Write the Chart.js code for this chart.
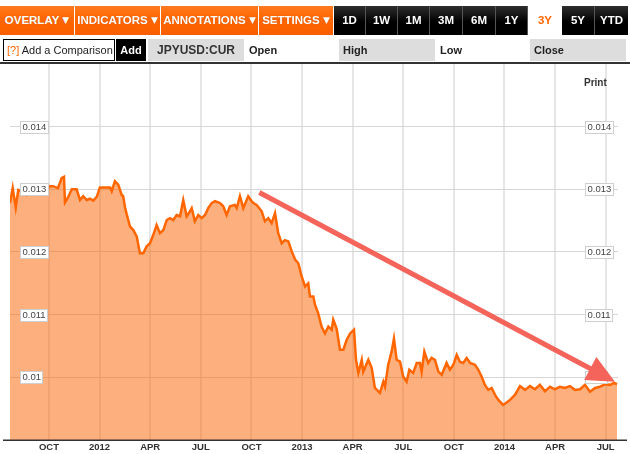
<!DOCTYPE html>
<html>
<head>
<meta charset="utf-8">
<script src="https://cdn.jsdelivr.net/npm/chart.js@4.4.1/dist/chart.umd.min.js"></script>
<style>
html,body{margin:0;padding:0;background:#fff;}
body{font-family:"Liberation Sans",Arial,Helvetica,sans-serif;}
#wrap{position:relative;width:630px;height:454px;overflow:hidden;}
#box{position:absolute;left:0;top:0;width:630px;height:454px;}
.ob,.bb{position:absolute;top:6px;height:29px;line-height:29px;text-align:center;font-weight:bold;color:#fff;box-sizing:border-box;}
.ob{background:linear-gradient(#ff7a1f,#ff6600 45%,#fa5f00);font-size:11.5px;text-shadow:0 0 1px rgba(0,0,0,.25);}
.bb{background:linear-gradient(#2e2e2e,#000 55%);font-size:11.5px;border-right:1px solid #555;}
.bb.on{background:#fff;color:#ff6600;border:none;}
.r2{position:absolute;top:39px;height:22px;line-height:22px;box-sizing:border-box;font-size:11px;color:#222;}
.grey{background:#ddd;}
.tri{font-family:"DejaVu Sans",sans-serif;font-size:9px;vertical-align:1px;}
#rule{position:absolute;left:0;top:62px;width:630px;height:2px;background:#333;}
#print{position:absolute;left:584px;top:77px;font-size:10px;font-weight:bold;color:#333;}
</style>
</head>
<body>
<div id="wrap">
<div id="box"><canvas id="chart"></canvas></div>

<div class="ob" style="left:0;width:74px">OVERLAY <span class="tri">&#9660;</span></div>
<div class="ob" style="left:75px;width:85px">INDICATORS <span class="tri">&#9660;</span></div>
<div class="ob" style="left:161px;width:97px">ANNOTATIONS <span class="tri">&#9660;</span></div>
<div class="ob" style="left:259px;width:74px">SETTINGS <span class="tri">&#9660;</span></div>

<div class="bb" style="left:334px;width:32px">1D</div>
<div class="bb" style="left:366px;width:32px">1W</div>
<div class="bb" style="left:398px;width:32px">1M</div>
<div class="bb" style="left:430px;width:33px">3M</div>
<div class="bb" style="left:463px;width:33px">6M</div>
<div class="bb" style="left:496px;width:32px">1Y</div>
<div class="bb on" style="left:528px;width:34px">3Y</div>
<div class="bb" style="left:562px;width:33px">5Y</div>
<div class="bb" style="left:595px;width:33px;border-right:none">YTD</div>

<div class="r2" style="left:3px;width:112px;border:1px solid #000;line-height:20px;padding-left:3px"><span style="color:#ff6600">[?]</span> Add a Comparison</div>
<div class="r2" style="left:116px;width:30px;background:#000;color:#fff;font-weight:bold;text-align:center">Add</div>
<div class="r2 grey" style="left:148px;width:96px;font-weight:bold;font-size:12px;text-align:center;color:#333">JPYUSD:CUR</div>
<div class="r2" style="left:249px;font-weight:bold">Open</div>
<div class="r2 grey" style="left:339px;width:96px;padding-left:4px;font-weight:bold">High</div>
<div class="r2" style="left:440px;font-weight:bold">Low</div>
<div class="r2 grey" style="left:530px;width:96px;padding-left:4px;font-weight:bold">Close</div>
<div id="rule"></div>
<div id="print">Print</div>
</div>

<script>
// months counted from Jan 2011 (Oct 2011 = 9)
const months=[
6.69,6.85,7.03,7.18,7.40,7.58,7.68,7.87,8.05,8.47,8.88,9.06,9.24,9.53,9.75,9.89,9.95,10.13,10.35,10.64,
10.84,11.03,11.23,11.43,11.63,11.83,12.02,12.20,12.62,12.72,12.91,13.11,13.31,13.40,13.51,13.61,13.70,13.80,14.00,14.20,
14.39,14.59,14.79,14.99,15.18,15.38,15.58,15.78,15.98,16.17,16.37,16.57,16.77,16.96,17.16,17.36,17.46,17.65,17.85,18.05,
18.25,18.44,18.64,18.84,19.14,19.33,19.53,19.73,20.02,20.13,20.32,20.52,20.81,21.02,21.12,21.31,21.61,21.80,22.00,22.20,
22.40,22.59,22.79,22.99,23.19,23.39,23.59,23.78,23.98,24.18,24.37,24.47,24.67,24.77,24.96,25.16,25.36,25.56,25.76,25.85,
26.05,26.25,26.45,26.65,26.85,27.08,27.20,27.34,27.54,27.63,27.93,28.13,28.32,28.62,28.82,28.92,29.11,29.31,29.45,29.61,
29.81,30.00,30.20,30.36,30.59,30.80,30.99,31.09,31.25,31.48,31.68,31.88,32.08,32.28,32.57,32.77,32.97,33.17,33.36,33.56,
33.76,33.96,34.25,34.45,34.65,34.84,35.04,35.24,35.44,35.64,35.91,36.09,36.33,36.62,36.92,37.22,37.51,37.81,38.10,38.40,
38.70,38.99,39.29,39.59,39.88,40.18,40.48,40.77,41.07,41.37,41.66,41.96,42.26,42.49,42.67
];
const rates=[
0.01278,0.01302,0.01271,0.01299,0.01297,0.01297,0.01291,0.01295,0.01300,0.01300,0.01300,0.01305,0.01305,0.01302,0.01318,0.01320,0.01279,0.01287,0.01300,0.01300,
0.01283,0.01289,0.01283,0.01285,0.01282,0.01288,0.01303,0.01303,0.01303,0.01297,0.01313,0.01307,0.01291,0.01289,0.01271,0.01260,0.01251,0.01241,0.01235,0.01225,
0.01198,0.01198,0.01209,0.01214,0.01227,0.01243,0.01230,0.01235,0.01251,0.01254,0.01251,0.01259,0.01257,0.01283,0.01257,0.01265,0.01270,0.01249,0.01259,0.01254,
0.01259,0.01270,0.01278,0.01281,0.01278,0.01273,0.01259,0.01273,0.01275,0.01270,0.01289,0.01270,0.01289,0.01281,0.01278,0.01275,0.01265,0.01249,0.01254,0.01246,
0.01262,0.01230,0.01214,0.01219,0.01217,0.01201,0.01188,0.01182,0.01161,0.01145,0.01150,0.01129,0.01129,0.01116,0.01102,0.01081,0.01070,0.01081,0.01076,0.01092,
0.01078,0.01044,0.01044,0.01060,0.01070,0.01076,0.01028,0.01007,0.01028,0.01009,0.01028,0.01015,0.00983,0.00975,0.00993,0.00985,0.01020,0.01041,0.01062,0.01028,
0.01025,0.01001,0.00993,0.01012,0.01007,0.01023,0.01023,0.01009,0.01041,0.01023,0.01031,0.01028,0.01009,0.01004,0.01023,0.01012,0.01020,0.01036,0.01025,0.01023,
0.01031,0.01023,0.01020,0.01012,0.01001,0.00988,0.00980,0.00983,0.00972,0.00964,0.00956,0.00959,0.00964,0.00972,0.00986,0.00980,0.00986,0.00981,0.00988,0.00978,
0.00985,0.00981,0.00985,0.00983,0.00986,0.00980,0.00981,0.00988,0.00977,0.00983,0.00985,0.00989,0.00988,0.00991,0.00989
];
const xTickMonths=[9,12,15,18,21,24,27,30,33,36,39,42];
const xTickLabels=["OCT","2012","APR","JUL","OCT","2013","APR","JUL","OCT","2014","APR","JUL"];
const yTicks=[0.010,0.011,0.012,0.013,0.014];
const yTickLabels=["0.01","0.011","0.012","0.013","0.014"];
// trend arrow drawn on the chart, in data units [month, rate]
const arrowFrom=[21.47,0.01295];
const arrowTo=[42.55,0.00993];

const FONT='"Liberation Sans",Arial,Helvetica,sans-serif';

const decor={
id:"decor",
afterDatasetsDraw(chart){
const ctx=chart.ctx, xs=chart.scales.x, ys=chart.scales.y, a=chart.chartArea;
ctx.save();
// bottom axis
ctx.fillStyle="#333";
ctx.fillRect(3,a.bottom-0.5,624,1.5);
// x labels
ctx.font="bold 9.5px "+FONT;
ctx.textAlign="center";
ctx.textBaseline="middle";
xTickMonths.forEach((m,i)=>{
ctx.fillText(xTickLabels[i],xs.getPixelForValue(m),a.bottom+7.5);
});
// boxed y labels, both sides
ctx.font="9.5px "+FONT;
ctx.textAlign="left";
yTicks.forEach((v,i)=>{
const y=Math.round(ys.getPixelForValue(v));
const w=Math.round(ctx.measureText(yTickLabels[i]).width)+5;
[20,585].forEach(x=>{
ctx.fillStyle="#fff";
ctx.fillRect(x,y-6,w,13);
ctx.strokeStyle="#cfcfcf";
ctx.lineWidth=1;
ctx.strokeRect(x+0.5,y-5.5,w-1,12);
ctx.fillStyle="#444";
ctx.fillText(yTickLabels[i],x+2.5,y+0.5);
});
});
// trend arrow
const x1=xs.getPixelForValue(arrowFrom[0]), y1=ys.getPixelForValue(arrowFrom[1]);
const x2=xs.getPixelForValue(arrowTo[0]), y2=ys.getPixelForValue(arrowTo[1]);
const ang=Math.atan2(y2-y1,x2-x1), hl=28, hw=13;
const bx=x2-hl*Math.cos(ang), by=y2-hl*Math.sin(ang);
ctx.strokeStyle="#f4645a";
ctx.fillStyle="#f4645a";
ctx.lineWidth=5;
ctx.beginPath();
ctx.moveTo(x1,y1);
ctx.lineTo(bx+2*Math.cos(ang),by+2*Math.sin(ang));
ctx.stroke();
ctx.beginPath();
ctx.moveTo(x2,y2);
ctx.lineTo(bx+hw*Math.sin(ang),by-hw*Math.cos(ang));
ctx.lineTo(bx-hw*Math.sin(ang),by+hw*Math.cos(ang));
ctx.closePath();
ctx.fill();
ctx.restore();
}
};

new Chart(document.getElementById("chart"),{
type:"line",
data:{
datasets:[{
data:months.map((m,i)=>({x:m,y:rates[i]})),
borderColor:"#ff6600",
borderWidth:2.5,
backgroundColor:"rgba(252,100,0,0.51)",
fill:"start",
pointRadius:0,
tension:0
}]
},
options:{
responsive:true,
maintainAspectRatio:false,
animation:false,
layout:{padding:{left:10,right:12,top:64,bottom:14}},
plugins:{legend:{display:false},tooltip:{enabled:false}},
scales:{
x:{
type:"linear",
min:6.69,
max:42.73,
afterBuildTicks:s=>{s.ticks=xTickMonths.map(v=>({value:v}));},
ticks:{display:false},
grid:{color:"#e6e6e6",lineWidth:2,drawTicks:false},
border:{display:false}
},
y:{
type:"linear",
min:0.009,
max:0.015,
afterBuildTicks:s=>{s.ticks=yTicks.map(v=>({value:v}));},
ticks:{display:false},
grid:{color:"#d6d6d6",lineWidth:1,drawTicks:false},
border:{display:false}
}
}
},
plugins:[decor]
});
</script>
</body>
</html>
